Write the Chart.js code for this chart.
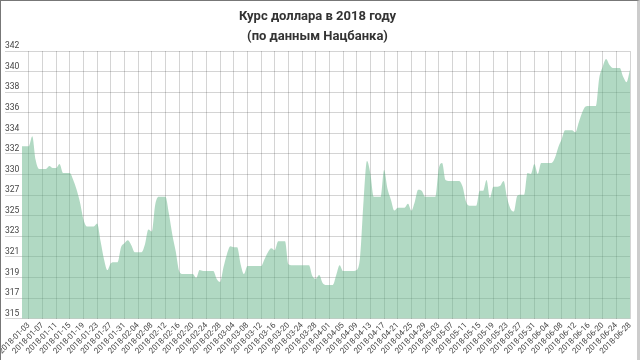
<!DOCTYPE html>
<html>
<head>
<meta charset="utf-8">
<script src="https://cdn.jsdelivr.net/npm/chart.js@4/dist/chart.umd.min.js"></script>
<style>
  html, body { margin: 0; padding: 0; background: #fff; }
  #wrap { position: relative; width: 640px; height: 360px; }
  #frame { position: absolute; left: 0; top: 0; width: 640px; height: 360px; box-sizing: border-box;
           border-left: 1px solid #777; border-top: 1px solid #777; border-right: 3px solid #ccc; pointer-events: none; }
</style>
</head>
<body>
<div id="wrap">
  <canvas id="c" width="640" height="360"></canvas>
  <div id="frame"></div>
</div>
<script>
const titleLines = ['Курс доллара в 2018 году', '(по данным Нацбанка)'];

const dates = [
 '2018-01-01','2018-01-02','2018-01-03','2018-01-04','2018-01-05','2018-01-06','2018-01-07','2018-01-08','2018-01-09','2018-01-10',
 '2018-01-11','2018-01-12','2018-01-13','2018-01-14','2018-01-15','2018-01-16','2018-01-17','2018-01-18','2018-01-19','2018-01-20',
 '2018-01-21','2018-01-22','2018-01-23','2018-01-24','2018-01-25','2018-01-26','2018-01-27','2018-01-28','2018-01-29','2018-01-30','2018-01-31',
 '2018-02-01','2018-02-02','2018-02-03','2018-02-04','2018-02-05','2018-02-06','2018-02-07','2018-02-08','2018-02-09','2018-02-10',
 '2018-02-11','2018-02-12','2018-02-13','2018-02-14','2018-02-15','2018-02-16','2018-02-17','2018-02-18','2018-02-19','2018-02-20',
 '2018-02-21','2018-02-22','2018-02-23','2018-02-24','2018-02-25','2018-02-26','2018-02-27','2018-02-28',
 '2018-03-01','2018-03-02','2018-03-03','2018-03-04','2018-03-05','2018-03-06','2018-03-07','2018-03-08','2018-03-09','2018-03-10',
 '2018-03-11','2018-03-12','2018-03-13','2018-03-14','2018-03-15','2018-03-16','2018-03-17','2018-03-18','2018-03-19','2018-03-20',
 '2018-03-21','2018-03-22','2018-03-23','2018-03-24','2018-03-25','2018-03-26','2018-03-27','2018-03-28','2018-03-29','2018-03-30','2018-03-31',
 '2018-04-01','2018-04-02','2018-04-03','2018-04-04','2018-04-05','2018-04-06','2018-04-07','2018-04-08','2018-04-09','2018-04-10',
 '2018-04-11','2018-04-12','2018-04-13','2018-04-14','2018-04-15','2018-04-16','2018-04-17','2018-04-18','2018-04-19','2018-04-20',
 '2018-04-21','2018-04-22','2018-04-23','2018-04-24','2018-04-25','2018-04-26','2018-04-27','2018-04-28','2018-04-29','2018-04-30',
 '2018-05-01','2018-05-02','2018-05-03','2018-05-04','2018-05-05','2018-05-06','2018-05-07','2018-05-08','2018-05-09','2018-05-10',
 '2018-05-11','2018-05-12','2018-05-13','2018-05-14','2018-05-15','2018-05-16','2018-05-17','2018-05-18','2018-05-19','2018-05-20',
 '2018-05-21','2018-05-22','2018-05-23','2018-05-24','2018-05-25','2018-05-26','2018-05-27','2018-05-28','2018-05-29','2018-05-30','2018-05-31',
 '2018-06-01','2018-06-02','2018-06-03','2018-06-04','2018-06-05','2018-06-06','2018-06-07','2018-06-08','2018-06-09','2018-06-10',
 '2018-06-11','2018-06-12','2018-06-13','2018-06-14','2018-06-15','2018-06-16','2018-06-17','2018-06-18','2018-06-19','2018-06-20',
 '2018-06-21','2018-06-22','2018-06-23','2018-06-24','2018-06-25','2018-06-26','2018-06-27','2018-06-28'
];

const rates = [
 332.4,332.4,332.4,333.4,331.0,330.1,330.1,330.1,330.4,330.2,
 330.2,330.6,329.7,329.7,329.7,329.0,328.0,326.7,325.0,324.3,
 324.3,324.3,324.6,322.8,321.0,319.9,320.6,320.7,320.7,322.2,322.6,
 322.9,322.4,321.7,321.7,321.7,322.5,324.0,323.8,326.5,327.3,
 327.3,327.3,325.6,323.5,321.8,319.8,319.5,319.5,319.5,319.5,
 319.1,319.9,319.8,319.8,319.8,319.8,319.0,318.7,
 320.2,321.5,322.3,322.2,322.2,320.5,319.5,320.3,320.3,320.3,
 320.3,320.3,321.0,321.7,322.1,321.9,322.8,322.8,322.8,320.5,
 320.4,320.4,320.4,320.4,320.4,320.4,319.3,319.0,319.4,318.6,318.4,
 318.4,318.4,319.4,320.4,319.8,319.8,319.8,319.8,319.9,321.3,
 326.9,330.9,329.6,327.3,327.3,327.3,330.0,328.1,327.0,325.9,
 326.2,326.2,326.2,326.6,325.9,326.8,328.0,327.9,327.3,327.3,
 327.3,327.3,330.1,330.7,329.0,328.9,328.9,328.9,328.9,328.3,
 326.8,326.4,326.4,326.4,327.9,327.9,329.0,327.2,328.3,328.3,
 328.4,328.9,327.2,326.1,325.8,327.4,327.5,327.5,329.7,329.6,330.6,
 329.6,330.7,330.7,330.7,330.7,331.2,332.3,333.1,334.0,334.0,
 334.0,333.8,334.8,335.8,336.4,336.45,336.45,336.45,339.3,340.4,
 341.2,340.6,340.3,340.3,340.3,339.4,338.85,340.1
];

const yMin = 315, yMax = 342, yTickCount = 14;
const labelEvery = 4, labelStart = 2;

const gridColor = 'rgba(0,0,0,0.17)';

new Chart(document.getElementById('c'), {
  type: 'line',
  data: {
    labels: dates,
    datasets: [{
      data: rates,
      fill: 'start',
      backgroundColor: 'rgba(100,180,135,0.5)',
      borderWidth: 0,
      pointRadius: 0,
      cubicInterpolationMode: 'monotone'
    }]
  },
  options: {
    responsive: false,
    animation: false,
    layout: { padding: { left: 5, right: 10, top: 0, bottom: 2 } },
    plugins: {
      legend: { display: false },
      tooltip: { enabled: false },
      title: {
        display: true,
        text: titleLines,
        color: '#333',
        font: { family: 'Roboto', size: 13, weight: 'bold', lineHeight: 1.54 },
        padding: { top: 7, bottom: 4 }
      }
    },
    scales: {
      x: {
        border: { display: false },
        grid: {
          drawTicks: false,
          color: ctx => (ctx.index % labelEvery === labelStart ? gridColor : 'rgba(0,0,0,0)')
        },
        ticks: {
          autoSkip: false,
          minRotation: 45,
          maxRotation: 45,
          padding: 2,
          color: '#444',
          font: { family: 'Roboto', size: 8 },
          callback: function (v, i) { return i % labelEvery === labelStart ? dates[i] : ''; }
        }
      },
      y: {
        min: yMin,
        max: yMax,
        afterFit: s => { s.width = 17; },
        border: { display: false },
        grid: { color: gridColor, tickLength: 17 },
        ticks: {
          count: yTickCount,
          crossAlign: 'far',
          labelOffset: -5,
          padding: 0,
          color: '#444',
          font: { family: 'Roboto', size: 8.5 },
          callback: v => Math.round(v)
        }
      }
    }
  }
});
</script>
</body>
</html>
